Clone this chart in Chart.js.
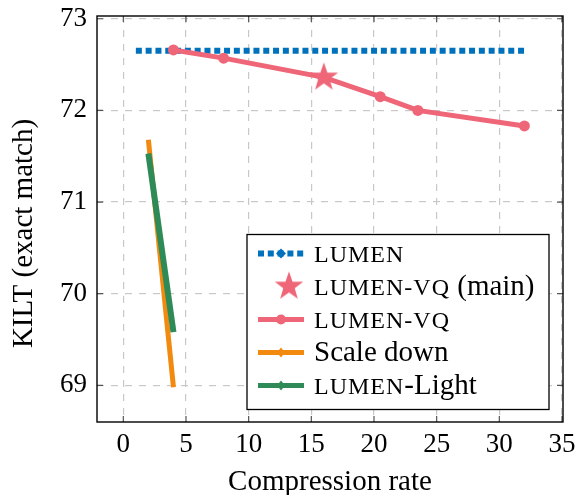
<!DOCTYPE html>
<html>
<head>
<meta charset="utf-8">
<script src="https://cdn.jsdelivr.net/npm/chart.js@4.4.1/dist/chart.umd.min.js"></script>
<style>
  html, body { margin: 0; padding: 0; background: #fff; }
  #wrap { width: 582px; height: 495px; }
</style>
</head>
<body>
<div id="wrap"><canvas id="chart" width="582" height="495"></canvas></div>
<script>
// --- Data ---
const lumenX = [1, 32];
const lumenY = [72.65, 72.65];
const vqMainX = [16];
const vqMainY = [72.36];
const vqX = [4, 8, 16, 20.5, 23.5, 32];
const vqY = [72.66, 72.57, 72.36, 72.15, 72.0, 71.83];
const scaleDownX = [2, 4];
const scaleDownY = [71.68, 68.98];
const lightX = [2, 4];
const lightY = [71.53, 69.58];
const xTicks = [0, 5, 10, 15, 20, 25, 30, 35];
const yTicks = [69, 70, 71, 72, 73];

const BLUE = '#0072BD';
const PINK = '#EE6677';
const ORANGE = '#F28A0F';
const GREEN = '#2E8B57';
const SERIF = "'Liberation Serif', 'Times New Roman', serif";

const pts = (xs, ys) => xs.map((x, i) => ({ x, y: ys[i] }));

// filled five point star used as point style
function makeStar(r, color) {
  const c = document.createElement('canvas');
  const s = Math.ceil(r * 2 + 2);
  c.width = s; c.height = s;
  const g = c.getContext('2d');
  g.translate(s / 2, s / 2);
  g.beginPath();
  for (let i = 0; i < 10; i++) {
    const rad = i % 2 === 0 ? r : r * 0.4;
    const a = -Math.PI / 2 + i * Math.PI / 5;
    g.lineTo(rad * Math.cos(a), rad * Math.sin(a));
  }
  g.closePath();
  g.fillStyle = color;
  g.fill();
  return c;
}
const star = makeStar(15, PINK);

// --- Frame, inner ticks and legend ---
const frame = {
  id: 'frame',
  beforeDatasetsDraw(chart) {
    const { ctx, chartArea: a, scales } = chart;
    ctx.save();
    ctx.strokeStyle = '#555';
    ctx.lineWidth = 1.2;
    ctx.beginPath();
    xTicks.forEach(v => {
      const px = scales.x.getPixelForValue(v);
      ctx.moveTo(px, a.bottom); ctx.lineTo(px, a.bottom - 6);
      ctx.moveTo(px, a.top); ctx.lineTo(px, a.top + 6);
    });
    yTicks.forEach(v => {
      const py = scales.y.getPixelForValue(v);
      ctx.moveTo(a.left, py); ctx.lineTo(a.left + 6, py);
      ctx.moveTo(a.right, py); ctx.lineTo(a.right - 6, py);
    });
    ctx.stroke();
    ctx.restore();
  },
  afterDatasetsDraw(chart) {
    const { ctx, chartArea: a } = chart;
    ctx.save();
    ctx.strokeStyle = '#000';
    ctx.lineWidth = 1.4;
    ctx.strokeRect(a.left, a.top, a.right - a.left, a.bottom - a.top);
    ctx.restore();
  },
  afterDraw(chart) {
    const { ctx, chartArea: a } = chart;
    const right = a.right - 14, bottom = a.bottom - 12.5;
    const w = 302, h = 175;
    const left = right - w, top = bottom - h;
    ctx.save();
    ctx.fillStyle = '#fff';
    ctx.fillRect(left, top, w, h);
    ctx.strokeStyle = '#000';
    ctx.lineWidth = 1.3;
    ctx.strokeRect(left, top, w, h);

    const rows = [
      { kind: 'dots', color: BLUE, text: [['LUMEN', true]] },
      { kind: 'star', color: PINK, text: [['LUMEN-VQ', true], [' (main)', false]] },
      { kind: 'circle', color: PINK, text: [['LUMEN-VQ', true]] },
      { kind: 'small', color: ORANGE, text: [['Scale down', false]] },
      { kind: 'small', color: GREEN, text: [['LUMEN', true], ['-Light', false]] }
    ];
    const x0 = left + 11, x1 = left + 57, xm = left + 34, tx = left + 67;
    rows.forEach((r, i) => {
      const y = top + 19 + i * 33;
      ctx.strokeStyle = r.color;
      ctx.fillStyle = r.color;
      if (r.kind === 'dots') {
        ctx.lineWidth = 6;
        ctx.setLineDash([6, 3.8]);
        ctx.beginPath(); ctx.moveTo(x0, y); ctx.lineTo(x1, y); ctx.stroke();
        ctx.setLineDash([]);
        ctx.beginPath();
        ctx.moveTo(xm, y - 5); ctx.lineTo(xm + 5, y); ctx.lineTo(xm, y + 5); ctx.lineTo(xm - 5, y);
        ctx.closePath(); ctx.fill();
      } else if (r.kind === 'star') {
        ctx.drawImage(star, xm + 8 - star.width / 2, y - star.height / 2);
      } else {
        ctx.lineWidth = 5;
        ctx.beginPath(); ctx.moveTo(x0, y); ctx.lineTo(x1, y); ctx.stroke();
        ctx.beginPath();
        if (r.kind === 'circle') {
          ctx.arc(xm, y, 5, 0, Math.PI * 2);
        } else {
          ctx.moveTo(xm, y - 5); ctx.lineTo(xm + 4, y); ctx.lineTo(xm, y + 5); ctx.lineTo(xm - 4, y);
          ctx.closePath();
        }
        ctx.fill();
      }
      // text, small caps emulated with smaller capitals
      let x = tx;
      ctx.fillStyle = '#000';
      ctx.textBaseline = 'alphabetic';
      r.text.forEach(([t, sc]) => {
        if (sc) {
          ctx.font = '24px ' + SERIF;
          ctx.letterSpacing = '1px';
          ctx.fillText(t.toUpperCase(), x, y + 8);
          x += ctx.measureText(t.toUpperCase()).width;
          ctx.letterSpacing = '0px';
        } else {
          ctx.font = '29px ' + SERIF;
          ctx.fillText(t, x, y + 8);
          x += ctx.measureText(t).width;
        }
      });
    });
    ctx.restore();
  }
};

Chart.defaults.font.family = SERIF;
Chart.defaults.color = '#000';

new Chart(document.getElementById('chart').getContext('2d'), {
  type: 'scatter',
  data: {
    datasets: [
      {
        label: 'LUMEN-Light',
        data: pts(lightX, lightY),
        showLine: true,
        borderColor: GREEN,
        borderWidth: 6,
        pointRadius: 0
      },
      {
        label: 'Scale down',
        data: pts(scaleDownX, scaleDownY),
        showLine: true,
        borderColor: ORANGE,
        borderWidth: 5,
        pointRadius: 0
      },
      {
        label: 'LUMEN-VQ (main)',
        data: pts(vqMainX, vqMainY),
        pointStyle: star,
        pointRadius: 15
      },
      {
        label: 'LUMEN-VQ',
        data: pts(vqX, vqY),
        showLine: true,
        borderColor: PINK,
        backgroundColor: PINK,
        borderWidth: 5,
        pointRadius: 5.5,
        pointBorderWidth: 0
      },
      {
        label: 'LUMEN',
        data: pts(lumenX, lumenY),
        showLine: true,
        borderColor: BLUE,
        borderWidth: 6,
        borderDash: [6, 3.8],
        borderCapStyle: 'butt',
        pointRadius: 0
      }
    ]
  },
  options: {
    responsive: false,
    animation: false,
    layout: { padding: { left: 0, right: 19, top: 14, bottom: 0 } },
    plugins: { legend: { display: false }, tooltip: { enabled: false } },
    scales: {
      x: {
        type: 'linear',
        min: -2.1,
        max: 35.08,
        afterBuildTicks: s => { s.ticks = xTicks.map(v => ({ value: v })); },
        afterFit: s => { s.height = 73; s.paddingLeft = 0; s.paddingRight = 0; },
        ticks: { font: { size: 27 }, padding: 7, maxRotation: 0 },
        grid: { color: '#c8c8c8', lineWidth: 1.2, drawTicks: false },
        border: { display: false, dash: [7, 7] },
        title: { display: true, text: 'Compression rate', font: { size: 29, lineHeight: 0.9 }, padding: 0 }
      },
      y: {
        type: 'linear',
        min: 68.6,
        max: 73.03,
        afterBuildTicks: s => { s.ticks = yTicks.map(v => ({ value: v })); },
        afterFit: s => { s.width = 97; s.paddingTop = 0; s.paddingBottom = 0; },
        ticks: { font: { size: 27 }, padding: 10 },
        grid: { color: '#c8c8c8', lineWidth: 1.2, drawTicks: false },
        border: { display: false, dash: [7, 7] },
        title: { display: true, text: 'KILT (exact match)\u00a0\u00a0\u00a0\u00a0', font: { size: 29, lineHeight: 1 }, padding: { top: 10, bottom: 0 } }
      }
    }
  },
  plugins: [frame]
});
</script>
</body>
</html>
